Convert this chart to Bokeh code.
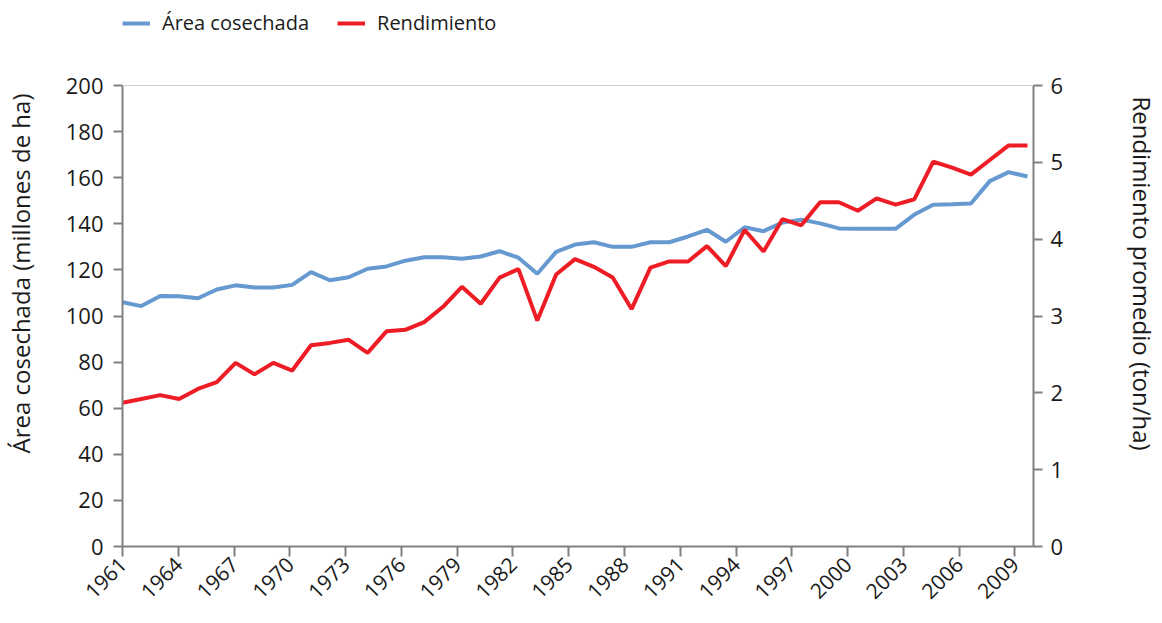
import math
from bokeh.plotting import figure
from bokeh.models import Range1d, LinearAxis, FixedTicker, Legend, LegendItem, Span
from bokeh.embed import file_html
from bokeh.resources import INLINE

years = list(range(1961, 2010))
area = [106.0, 104.3, 108.7, 108.6, 107.7, 111.5, 113.3, 112.4, 112.4, 113.5,
        119.0, 115.5, 116.8, 120.5, 121.5, 124.0, 125.5, 125.5, 124.8, 125.8,
        128.1, 125.3, 118.3, 127.8, 131.0, 132.0, 130.0, 130.0, 132.0, 132.0,
        134.5, 137.4, 132.2, 138.5, 136.8, 140.5, 141.8, 140.2, 138.0, 137.8,
        137.8, 137.8, 144.0, 148.3, 148.5, 148.8, 158.5, 162.4, 160.5]
rend = [1.87, 1.92, 1.97, 1.92, 2.05, 2.14, 2.39, 2.24, 2.39, 2.29,
        2.62, 2.65, 2.69, 2.52, 2.80, 2.82, 2.92, 3.12, 3.38, 3.16,
        3.50, 3.61, 2.94, 3.54, 3.74, 3.64, 3.50, 3.09, 3.63, 3.71,
        3.71, 3.91, 3.65, 4.12, 3.84, 4.26, 4.18, 4.48, 4.48, 4.37,
        4.53, 4.45, 4.52, 5.01, 4.93, 4.84, 5.03, 5.22, 5.22]
tick_years = list(range(1961, 2011))  # category slots of the axis
label_every = 3
left_ticks = list(range(0, 201, 20))
right_ticks = list(range(0, 7))
series_names = ["Área cosechada", "Rendimiento"]

FONT = "Open Sans"
BLUE = "#6699CF"
RED = "#EE1D25"
AX = "#808080"
TXT = "#1a1a1a"

W, H = 1162, 623
# frame runs to the top of the figure; extra headroom above the axes holds the legend
head = 546 / 461
L_MAX, R_MAX = left_ticks[-1], right_ticks[-1]

x_end = 1961 + 48 * 912 / 906
p = figure(width=W, height=H, output_backend="svg", toolbar_location=None,
           x_range=Range1d(1961, x_end), y_range=Range1d(0, L_MAX * head),
           min_border_left=122, min_border_right=128, min_border_top=0, min_border_bottom=77)
p.extra_y_ranges = {"r": Range1d(0, R_MAX * head)}
p.xgrid.visible = False
p.ygrid.visible = False
p.outline_line_color = None
p.add_layout(Span(location=L_MAX, dimension="width", line_color="#d0d0d0", line_width=1))

step = (x_end - 1961) / (len(tick_years) - 1)
pos = [1961 + i * step for i in range(len(tick_years))]
shown = [(pp, y) for pp, y in zip(pos, tick_years) if (y - 1961) % label_every == 0 and y <= 2009]
p.xaxis.ticker = FixedTicker(ticks=[s[0] for s in shown])
p.xaxis.major_label_overrides = {s[0]: str(s[1]) for s in shown}
p.xaxis.major_label_orientation = math.pi / 4

p.yaxis.ticker = FixedTicker(ticks=left_ticks)
p.yaxis.bounds = (0, L_MAX)
p.yaxis.axis_label = "Área cosechada (millones de ha)"

ry = LinearAxis(y_range_name="r", ticker=FixedTicker(ticks=right_ticks), bounds=(0, R_MAX),
                axis_label="Rendimiento promedio (ton/ha)")
p.add_layout(ry, "right")

for ax in [p.xaxis[0], p.yaxis[0], ry]:
    ax.axis_line_color = AX
    ax.axis_line_width = 2
    ax.major_tick_line_color = AX
    ax.major_tick_line_width = 2
    ax.major_tick_in = 0
    ax.major_tick_out = 9
    ax.minor_tick_line_color = None
    ax.major_label_text_font = FONT
    ax.major_label_text_font_size = "22px"
    ax.major_label_text_color = TXT
    ax.axis_label_text_font = FONT
    ax.axis_label_text_font_size = "24px"
    ax.axis_label_text_font_style = "normal"
    ax.axis_label_text_color = TXT
p.xaxis.major_tick_out = 10
p.xaxis.major_label_standoff = 4
p.xaxis.major_label_text_font_size = "21px"
p.yaxis.major_label_standoff = 10
ry.major_label_standoff = 8
p.yaxis.axis_label_standoff = 26
ry.axis_label_standoff = 60

l1 = p.line(years, area, line_color=BLUE, line_width=4)
l2 = p.line(years, rend, line_color=RED, line_width=4, y_range_name="r")

leg = Legend(items=[LegendItem(label=series_names[0], renderers=[l1]),
                    LegendItem(label=series_names[1], renderers=[l2])],
             orientation="horizontal", location=(0, 510),
             padding=0, margin=0, spacing=28, glyph_width=28, glyph_height=24,
             label_height=24, label_standoff=12,
             border_line_color=None, background_fill_alpha=0,
             label_text_font=FONT, label_text_font_size="20px", label_text_color=TXT)
p.add_layout(leg, "center")

open("out.html", "w").write(file_html(p, INLINE))
